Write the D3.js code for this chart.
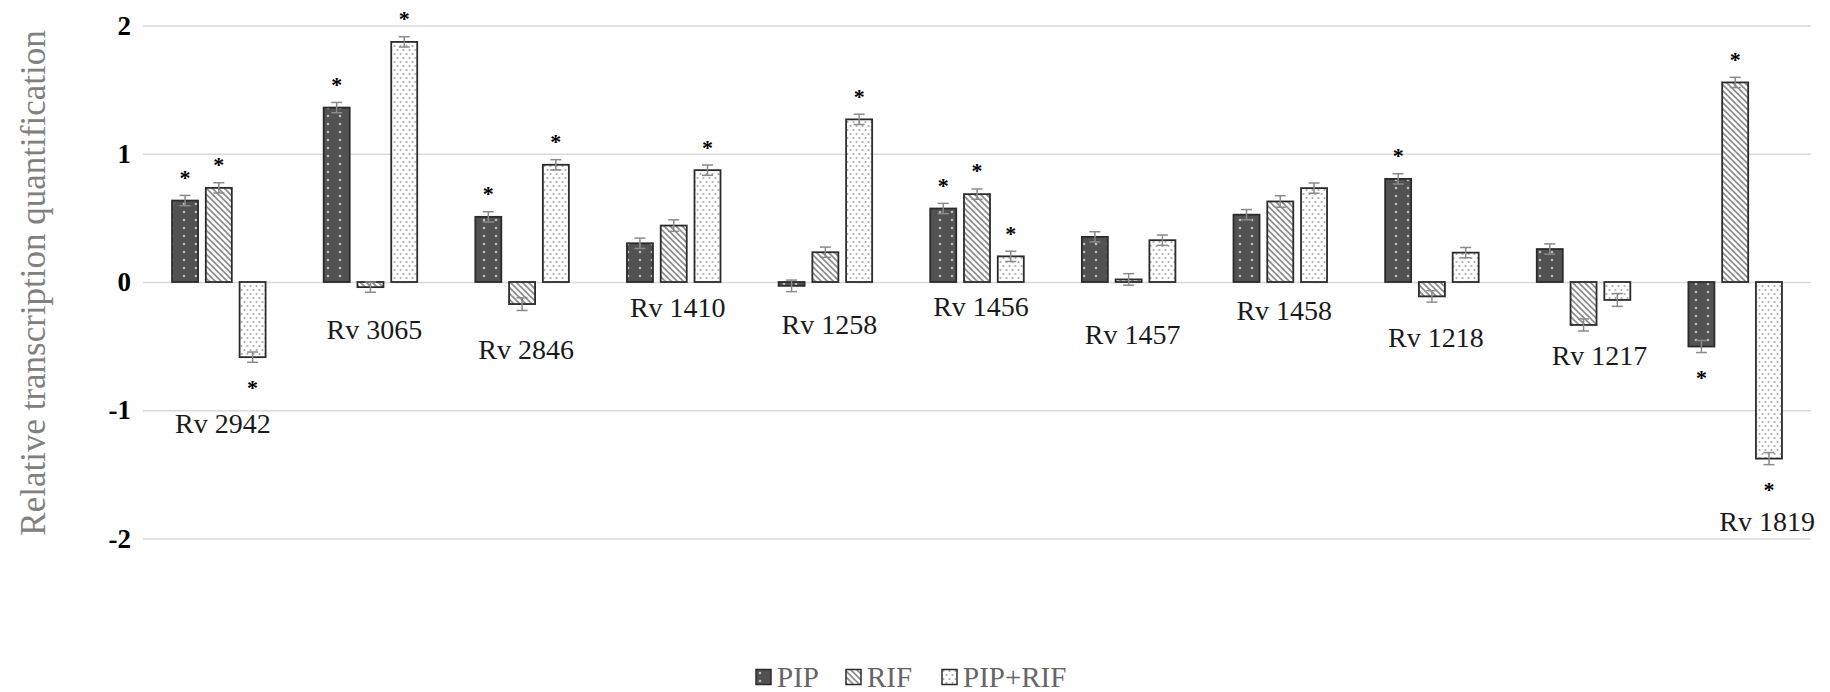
<!DOCTYPE html>
<html lang="en">
  <head>
    <meta charset="utf-8">
    <title>Relative transcription quantification</title>
    <script src="https://cdnjs.cloudflare.com/ajax/libs/d3/7.8.0/d3.min.js"></script>
    <style>
      body { margin: 0; background: #fff; }
      svg text { font-family: "Liberation Serif", "Times New Roman", serif; }
      .grid line { stroke: #d9d9d9; stroke-width: 1.5; }
      .grid text { font-size: 27px; font-weight: bold; fill: #000; font-family: "Liberation Serif", serif; }
      .cat-label { font-size: 28px; fill: #1a1a1a; }
      .star { font-size: 22px; font-weight: bold; fill: #000; }
      .legend text { font-size: 29px; fill: #666; }
    </style>
  </head>
  <body>
    <div id="chart"></div>

    <script type="text/javascript">
      // genes and treatments
      var categories = ["Rv 2942", "Rv 3065", "Rv 2846", "Rv 1410", "Rv 1258", "Rv 1456",
                        "Rv 1457", "Rv 1458", "Rv 1218", "Rv 1217", "Rv 1819"];
      var series = ["PIP", "RIF", "PIP+RIF"];

      // values
      var pipValues    = [0.635, 1.36, 0.508, 0.302, -0.03, 0.573, 0.352, 0.525, 0.804, 0.257, -0.503];
      var rifValues    = [0.734, -0.04, -0.172, 0.44, 0.232, 0.685, 0.02, 0.628, -0.112, -0.335, 1.556];
      var pipRifValues = [-0.586, 1.872, 0.914, 0.872, 1.268, 0.2, 0.326, 0.732, 0.229, -0.14, -1.377];

      // error bar half-widths
      var pipErr    = [0.04, 0.04, 0.04, 0.04, 0.045, 0.04, 0.04, 0.04, 0.04, 0.04, 0.047];
      var rifErr    = [0.04, 0.04, 0.05, 0.045, 0.04, 0.04, 0.045, 0.045, 0.045, 0.047, 0.04];
      var pipRifErr = [0.04, 0.04, 0.04, 0.04, 0.04, 0.04, 0.04, 0.04, 0.04, 0.05, 0.047];

      // significance stars (1 = marked)
      var pipSig    = [1, 1, 1, 0, 0, 1, 0, 0, 1, 0, 1];
      var rifSig    = [1, 0, 0, 0, 0, 1, 0, 0, 0, 0, 1];
      var pipRifSig = [1, 1, 1, 1, 1, 1, 0, 0, 0, 0, 1];

      // where each gene name sits, in axis units
      var labelLevel = [-1.10, -0.37, -0.53, -0.20, -0.33, -0.19, -0.41, -0.22, -0.43, -0.57, -1.87];

      var yTicks = [-2, -1, 0, 1, 2];

      var values = [pipValues, rifValues, pipRifValues];
      var errs = [pipErr, rifErr, pipRifErr];
      var sigs = [pipSig, rifSig, pipRifSig];
      var fills = ["url(#pipPat)", "url(#rifPat)", "url(#bothPat)"];

      var data = [];
      categories.forEach(function(c, i) {
        series.forEach(function(s, j) {
          data.push({ cat: c, s: s, j: j, v: values[j][i], e: errs[j][i], sig: sigs[j][i] });
        });
      });

      var width = 1830, height = 692;
      var plotLeft = 143, plotRight = 1811;

      var svg = d3.select("#chart").append("svg")
                  .attr("width", width)
                  .attr("height", height);

      // fill patterns
      var defs = svg.append("defs");
      var p1 = defs.append("pattern").attr("id", "pipPat")
                   .attr("patternUnits", "userSpaceOnUse").attr("width", 12).attr("height", 8);
      p1.append("rect").attr("width", 12).attr("height", 8).attr("fill", "#525252");
      p1.append("circle").attr("cx", 4).attr("cy", 4).attr("r", 1.3).attr("fill", "#bcbcbc");

      var p2 = defs.append("pattern").attr("id", "rifPat")
                   .attr("patternUnits", "userSpaceOnUse").attr("width", 6).attr("height", 6);
      p2.append("rect").attr("width", 6).attr("height", 6).attr("fill", "#fff");
      p2.append("path").attr("d", "M0,0L6,6M-1,5L1,7M5,-1L7,1")
        .attr("stroke", "#8a8a8a").attr("stroke-width", 1.6);

      var p3 = defs.append("pattern").attr("id", "bothPat")
                   .attr("patternUnits", "userSpaceOnUse").attr("width", 6).attr("height", 8);
      p3.append("rect").attr("width", 6).attr("height", 8).attr("fill", "#fff");
      p3.append("circle").attr("cx", 1.5).attr("cy", 2).attr("r", 1.1).attr("fill", "#a8a8a8");
      p3.append("circle").attr("cx", 4.5).attr("cy", 6).attr("r", 1.1).attr("fill", "#a8a8a8");

      // scales
      var x0 = d3.scaleBand().domain(categories).range([plotLeft, plotRight]);
      var x1 = d3.scaleBand().domain(series).range([0, x0.bandwidth()])
                 .paddingInner(0.23).paddingOuter(0.86);
      var y = d3.scaleLinear().domain([-2, 2]).range([538.5, 25.5]);

      // gridlines and tick labels (plain hyphen for negatives, as in the original)
      var grid = svg.append("g")
                    .attr("class", "grid")
                    .attr("transform", "translate(" + plotLeft + ",0)")
                    .call(d3.axisLeft(y).tickValues(yTicks).tickSize(-(plotRight - plotLeft))
                                        .tickPadding(12).tickFormat(function(d) { return String(d); }));
      grid.select(".domain").remove();

      // y axis title
      svg.append("text")
         .attr("transform", "translate(45,283) rotate(-90)")
         .attr("text-anchor", "middle")
         .style("font-size", "35px")
         .style("fill", "#808080")
         .text("Relative transcription quantification");

      // bars
      svg.append("g").selectAll("rect")
         .data(data)
         .enter().append("rect")
         .attr("x", function(d) { return x0(d.cat) + x1(d.s); })
         .attr("y", function(d) { return y(Math.max(d.v, 0)); })
         .attr("width", x1.bandwidth())
         .attr("height", function(d) { return Math.abs(y(d.v) - y(0)); })
         .attr("fill", function(d) { return fills[d.j]; })
         .attr("stroke", "#2b2b2b")
         .attr("stroke-width", 1.8);

      // error bars
      var cap = 5.5;
      var eb = svg.append("g").attr("stroke", "#8a8a8a").attr("stroke-width", 1.5)
                  .selectAll("g").data(data).enter().append("g");
      var cx = function(d) { return x0(d.cat) + x1(d.s) + x1.bandwidth() / 2; };
      eb.append("line")
        .attr("x1", cx).attr("x2", cx)
        .attr("y1", function(d) { return y(d.v - d.e); })
        .attr("y2", function(d) { return y(d.v + d.e); });
      eb.append("line")
        .attr("x1", function(d) { return cx(d) - cap; }).attr("x2", function(d) { return cx(d) + cap; })
        .attr("y1", function(d) { return y(d.v + d.e); }).attr("y2", function(d) { return y(d.v + d.e); });
      eb.append("line")
        .attr("x1", function(d) { return cx(d) - cap; }).attr("x2", function(d) { return cx(d) + cap; })
        .attr("y1", function(d) { return y(d.v - d.e); }).attr("y2", function(d) { return y(d.v - d.e); });

      // significance stars
      svg.append("g").selectAll("text")
         .data(data.filter(function(d) { return d.sig; }))
         .enter().append("text")
         .attr("class", "star")
         .attr("text-anchor", "middle")
         .attr("x", cx)
         .attr("y", function(d) {
           var c = d.v >= 0 ? y(d.v) - 26 : y(d.v) + 28;
           return c + 0.47 * 22;
         })
         .text("*");

      // gene names
      var nudge = { "Rv 1217": 12, "Rv 1819": 28 };
      svg.append("g").selectAll("text")
         .data(categories)
         .enter().append("text")
         .attr("class", "cat-label")
         .attr("text-anchor", "middle")
         .attr("dominant-baseline", "central")
         .attr("x", function(d) { return x0(d) + x0.bandwidth() / 2 + 4 + (nudge[d] || 0); })
         .attr("y", function(d, i) { return y(labelLevel[i]); })
         .text(function(d) { return d; });

      // legend
      var legendX = [756, 846, 942];
      var lg = svg.append("g").attr("class", "legend")
                  .selectAll("g").data(series).enter().append("g")
                  .attr("transform", function(d, i) { return "translate(" + legendX[i] + ",677)"; });
      lg.append("rect")
        .attr("x", 0).attr("y", -7.5).attr("width", 15).attr("height", 15)
        .attr("fill", function(d, i) { return fills[i]; })
        .attr("stroke", "#2b2b2b").attr("stroke-width", 1.5);
      lg.append("text")
        .attr("x", 21)
        .attr("dominant-baseline", "central")
        .text(function(d) { return d; });
    </script>
  </body>
</html>
